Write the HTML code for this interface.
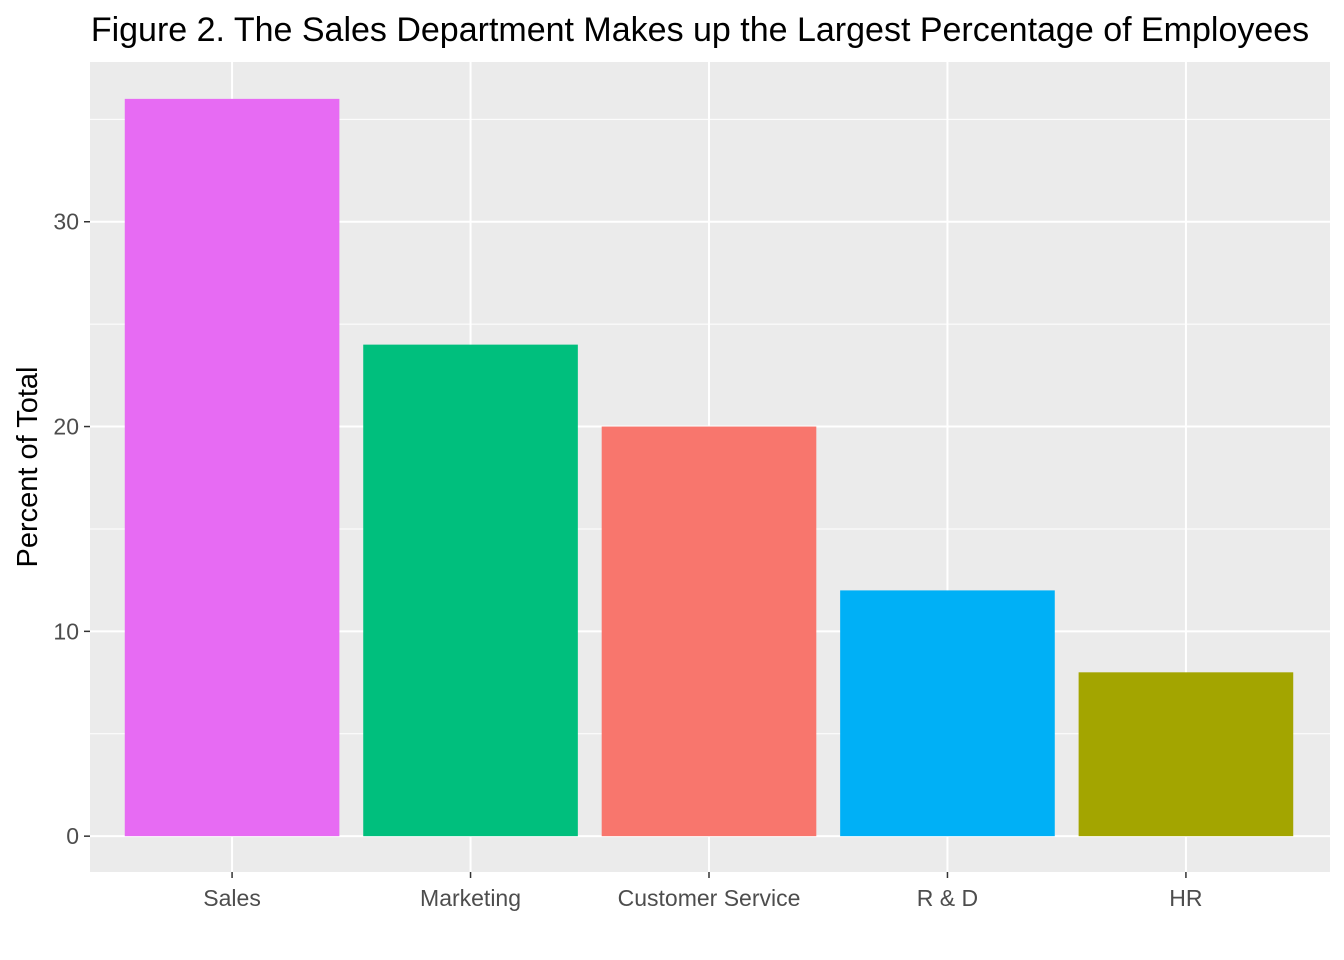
<!DOCTYPE html>
<html><head><meta charset="utf-8"><style>
body{margin:0;background:#fff;}
svg{display:block;font-family:"Liberation Sans",Arial,sans-serif;}
</style></head><body>
<svg id="chart" width="1344" height="960">
<text x="700" y="41" text-anchor="middle" font-size="34" fill="#000">Figure 2. The Sales Department Makes up the Largest Percentage of Employees</text>
<text transform="translate(37,467) rotate(-90)" text-anchor="middle" font-size="29" fill="#000">Percent of Total</text>
<g id="g"></g>
</svg>
<script>
const categories=["Sales","Marketing","Customer Service","R & D","HR"];
const values=[36,24,20,12,8];
const colors=["#E76BF3","#00BF7D","#F8766D","#00B0F6","#A3A500"];
const yTicks=[0,10,20,30];
const px0=90,px1=1330,py0=62,py1=872,ymin=-1.75,ymax=37.8;
const y=v=>py1-(v-ymin)/(ymax-ymin)*(py1-py0);
const step=(px1-px0)/(categories.length+0.2);
const x=i=>px0+(0.6+i)*step-1;
const ns="http://www.w3.org/2000/svg",g=document.getElementById('g');
function mk(t,a){const e=document.createElementNS(ns,t);for(const k in a)e.setAttribute(k,a[k]);g.appendChild(e);return e;}
const bg=mk('rect',{x:px0,y:py0,width:px1-px0,height:py1-py0,fill:'#EBEBEB'});


for(let i=0;i<yTicks.length;i++){const v=yTicks[i];
 const mv=v+5; if(y(mv)>py0){const m=mk('line',{x1:px0,x2:px1,y1:y(mv),y2:y(mv),stroke:'#fff','stroke-width':1});
 
 }
 const l=mk('line',{x1:px0,x2:px1,y1:y(v),y2:y(v),stroke:'#fff','stroke-width':2});
 
 
 const tk=mk('line',{x1:px0-6,x2:px0,y1:y(v),y2:y(v),stroke:'#333','stroke-width':1.5});
 
 
 const t=mk('text',{x:px0-11,y:y(v)+8,'text-anchor':'end','font-size':23,fill:'#4D4D4D'});t.textContent=v;
 
 
}
for(let i=0;i<categories.length;i++){
 const l=mk('line',{x1:x(i),x2:x(i),y1:py0,y2:py1,stroke:'#fff','stroke-width':2});
 
 
}
for(let i=0;i<categories.length;i++){
 const w=step*0.9;
 const r=mk('rect',{x:x(i)-w/2,y:y(values[i]),width:w,height:y(0)-y(values[i]),fill:colors[i]});
 
 
 const tk=mk('line',{x1:x(i),x2:x(i),y1:py1,y2:py1+6,stroke:'#333','stroke-width':1.5});
 
 
 const t=mk('text',{x:x(i),y:py1+34,'text-anchor':'middle','font-size':23,fill:'#4D4D4D'});t.textContent=categories[i];
 
 
}
</script>
</body></html>
